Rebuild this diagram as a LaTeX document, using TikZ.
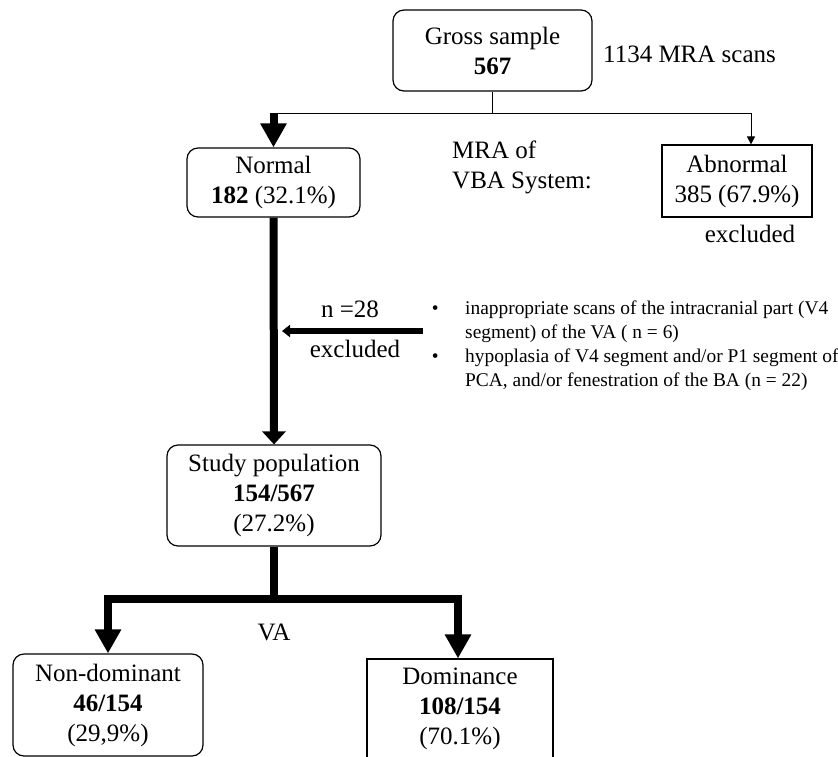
\documentclass[tikz,border=0pt]{standalone}
\usepackage{fontspec}
\setmainfont{Liberation Serif}
\usetikzlibrary{arrows.meta,positioning}

\begin{document}
\begin{tikzpicture}[x=1pt,y=-1pt,font=\fontsize{25}{30}\selectfont,
  every node/.style={inner sep=0pt},
  rbox/.style={draw,line width=1.2pt,rounded corners=11pt,align=center},
  sbox/.style={draw,line width=1.2pt,align=center},
  thinline/.style={line width=1pt},
  thinarrow/.style={line width=1pt,-{Triangle[width=8pt,length=8pt]}},
  fatarrow/.style={line width=8pt,-{Triangle[width=25pt,length=24pt]}},
  fatshort/.style={line width=8pt,-{Triangle[width=23pt,length=13pt]}},
  exclarrow/.style={line width=6pt,-{Triangle[width=12pt,length=8pt]}}]
  \useasboundingbox (0,0) rectangle (838,756);
  % boxes
  \node[rbox,minimum width=199pt,minimum height=81pt] (gross) at (492.5,50.5) {Gross sample\\\textbf{567}};
  \node[anchor=west] (scans) at (603,54) {1134 MRA scans};
  \node[rbox,minimum width=173pt,minimum height=69pt] (normal) at (273.5,182.5) {Normal\\\textbf{182} (32.1\%)};
  \node[sbox,minimum width=150pt,minimum height=72pt] (abn) at (737,181) {Abnormal\\385 (67.9\%)};
  \node (abnexcl) at (750,233.5) {excluded};
  \node[align=left,anchor=north west] (mra) at (452,140.5) {MRA of\\VBA System:};
  \node[rbox,minimum width=214pt,minimum height=101pt] (study) at (274,495.5) {Study population\\\textbf{154/567}\\(27.2\%)};
  \node[rbox,minimum width=190pt,minimum height=102pt] (nondom) at (108,705) {Non-dominant\\\textbf{46/154}\\(29,9\%)};
  \node[sbox,minimum width=186pt,minimum height=100pt] (dom) at (460,709) {Dominance\\\textbf{108/154}\\(70.1\%)};
  \node (va) at (274,632) {VA};
  % exclusion
  \node (ncount) at (350,309.5) {n =28};
  \node (nexcl) at (355,348.5) {excluded};
  \node[align=left,anchor=north west,font=\fontsize{19.4}{24}\selectfont] (reasons) at (465,300.6)
    {\llap{\textbullet\hspace{26.6pt}}inappropriate scans of the intracranial part (V4\\
     segment) of the VA ( n = 6)\\
     \llap{\textbullet\hspace{26.6pt}}hypoplasia of V4 segment and/or P1 segment of\\
     PCA, and/or fenestration of the BA (n = 22)};
  % connectors
  \coordinate (split) at (gross.south |- 0,113);
  \coordinate (bar) at (study.south |- 0,599);
  \coordinate (exclfrom) at (423,331);
  \coordinate (excltip) at (282,331);
  \draw[thinline] (gross.south) -- (split);
  \draw[thinline] (normal.north |- split) -- (split);
  \draw[thinarrow] (split) -| ([xshift=14pt]abn.north);
  \draw[fatarrow] (normal.north |- split) -- (normal.north);
  \draw[fatshort] (normal.south) -- (study.north);
  \draw[exclarrow] (exclfrom) -- (excltip);
  \draw[line width=8pt] (study.south) -- (bar);
  \draw[fatarrow] (bar) -| (nondom.north);
  \draw[fatarrow] (bar) -| ([xshift=-2pt]dom.north);
\end{tikzpicture}
\end{document}
